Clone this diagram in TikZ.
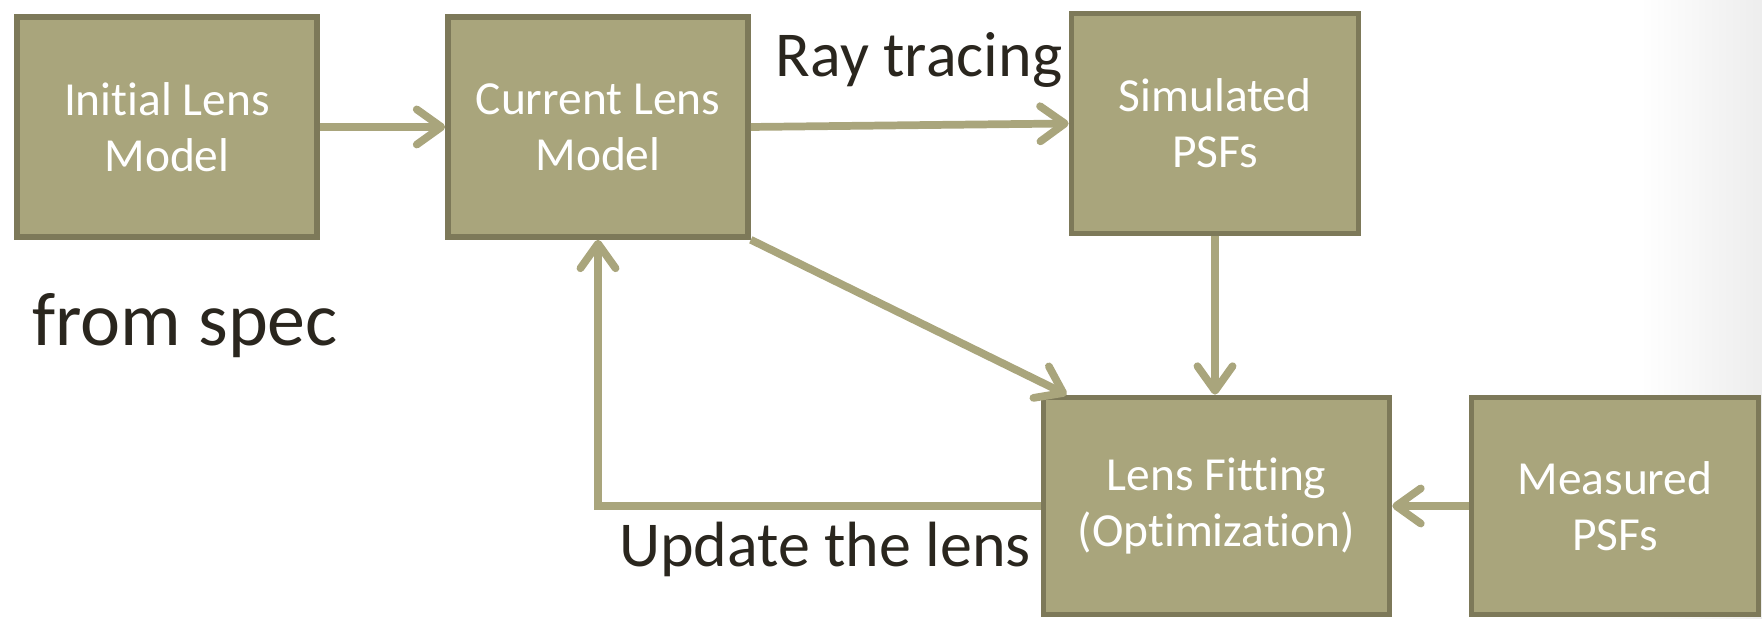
\documentclass[tikz,border=0pt]{standalone}
\usepackage{fontspec}
\setmainfont{Carlito}[Ligatures=NoCommon, RawFeature={-liga;-clig;-calt;-dlig}]
\definecolor{lensolive}{RGB}{169,165,124}
\definecolor{lensedge}{RGB}{125,121,89}
\definecolor{lenstext}{RGB}{42,38,30}
\usetikzlibrary{arrows.meta,positioning}

\begin{document}
\begin{tikzpicture}[
  lensbox/.style={draw=lensedge, fill=lensolive, line width=1.6pt, minimum width=3.0cm, minimum height=2.2cm, align=center, text=white, font=\fontsize{13.5}{15.9}\selectfont},
  lensflow/.style={-{Straight Barb[length=7pt,width=10pt,round]}, line width=2.2pt, draw=lensolive},
  note/.style={anchor=base, inner sep=0pt, text=lenstext, font=\fontsize{18.2}{21}\selectfont}]
  \useasboundingbox (0,0) rectangle (17.62,6.19);
  \shade[left color=white, right color=black!7] (16.4,0) rectangle (17.62,6.19);

  %--- Lens model ---
  \node[lensbox] (ini) at (1.67,4.92) {Initial Lens\\Model};
  \node[lensbox] (cur) at (5.98,4.92) {Current Lens\\Model};
  \node[lensbox, minimum width=2.87cm] (sim) at (12.15,4.955) {Simulated\\PSFs};

  %--- Fitting ---
  \node[lensbox, minimum width=3.46cm, minimum height=2.17cm] (fit) at (12.165,1.13) {Lens Fitting\\(Optimization)};
  \node[lensbox, minimum width=2.87cm, minimum height=2.17cm] (mea) at (16.15,1.13) {Measured\\PSFs};

  \draw[lensflow] (ini.east) -- (cur.west);
  \draw[lensflow] (cur.east) -- (sim.west);
  \draw[lensflow] (cur.south east) -- ([xshift=0.26cm]fit.north west);
  \draw[lensflow] (sim.south) -- (sim.south |- fit.north);
  \draw[lensflow] (mea.west) -- (fit.east);
  \draw[lensflow] (fit.west) -| (cur.south);

  %--- Labels ---
  \node[note] (ray) at (9.19,5.42) {Ray tracing};
  \node[note, font=\fontsize{21.6}{25}\selectfont] (spec) at (1.85,2.73) {from spec};
  \node[note] (upd) at (8.25,0.52) {Update the lens};
\end{tikzpicture}
\end{document}
